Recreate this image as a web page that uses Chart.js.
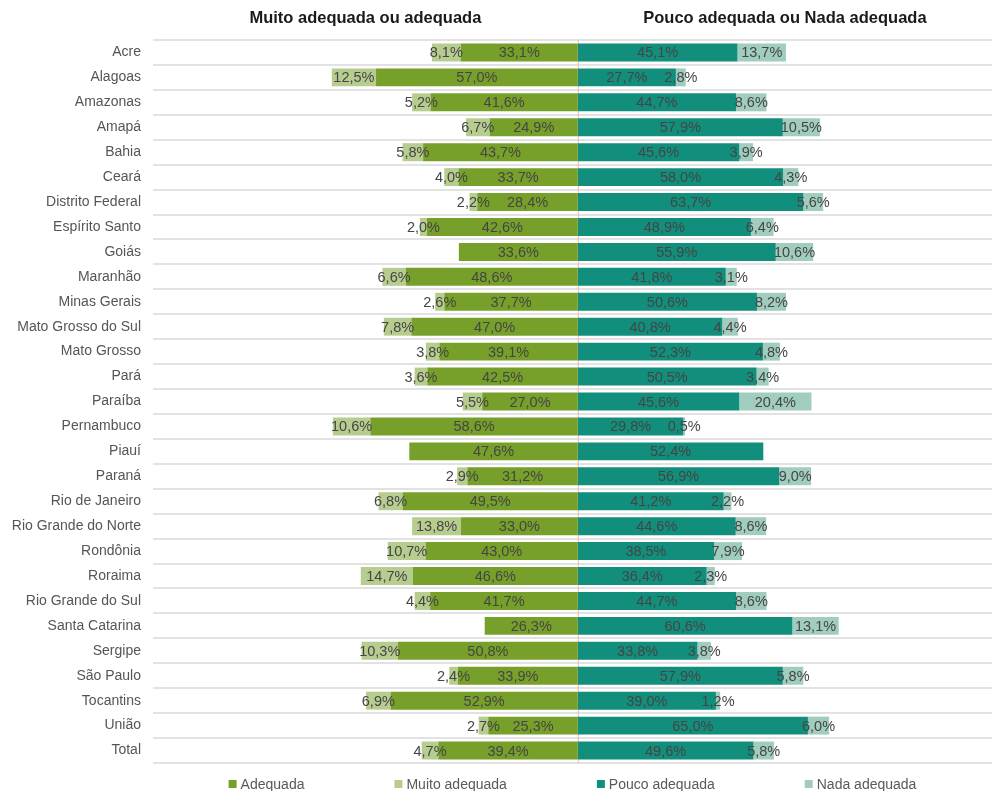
<!DOCTYPE html>
<html>
<head>
<meta charset="utf-8">
<script src="https://cdn.jsdelivr.net/npm/chart.js@4/dist/chart.umd.min.js"></script>
<style>
  html, body { margin: 0; padding: 0; background: #ffffff; }
  #wrap { position: relative; width: 992px; height: 791px; }
</style>
</head>
<body>
<div id="wrap"><canvas id="c"></canvas></div>
<script>
const categories = ['Acre','Alagoas','Amazonas','Amapá','Bahia','Ceará','Distrito Federal','Espírito Santo','Goiás','Maranhão','Minas Gerais','Mato Grosso do Sul','Mato Grosso','Pará','Paraíba','Pernambuco','Piauí','Paraná','Rio de Janeiro','Rio Grande do Norte','Rondônia','Roraima','Rio Grande do Sul','Santa Catarina','Sergipe','São Paulo','Tocantins','União','Total'];
const adequada       = [33.1,57.0,41.6,24.9,43.7,33.7,28.4,42.6,33.6,48.6,37.7,47.0,39.1,42.5,27.0,58.6,47.6,31.2,49.5,33.0,43.0,46.6,41.7,26.3,50.8,33.9,52.9,25.3,39.4];
const muitoAdequada  = [8.1,12.5,5.2,6.7,5.8,4.0,2.2,2.0,0,6.6,2.6,7.8,3.8,3.6,5.5,10.6,0,2.9,6.8,13.8,10.7,14.7,4.4,0,10.3,2.4,6.9,2.7,4.7];
const poucoAdequada  = [45.1,27.7,44.7,57.9,45.6,58.0,63.7,48.9,55.9,41.8,50.6,40.8,52.3,50.5,45.6,29.8,52.4,56.9,41.2,44.6,38.5,36.4,44.7,60.6,33.8,57.9,39.0,65.0,49.6];
const nadaAdequada   = [13.7,2.8,8.6,10.5,3.9,4.3,5.6,6.4,10.6,3.1,8.2,4.4,4.8,3.4,20.4,0.5,0,9.0,2.2,8.6,7.9,2.3,8.6,13.1,3.8,5.8,1.2,6.0,5.8];
const seriesNames = ['Adequada','Muito adequada','Pouco adequada','Nada adequada'];
const panelTitles = ['Muito adequada ou adequada','Pouco adequada ou Nada adequada'];

const FONT = '"Liberation Sans", Arial, sans-serif';
const colors = ['#77a02a','#b7cd8f','#118f7c','#a0cdbe'];
const fmt = v => v.toFixed(1).replace('.', ',') + '%';

const labelsPlugin = {
  id: 'custom',
  beforeDatasetsDraw(chart) {
    const {ctx, chartArea, scales} = chart;
    const x0 = scales.x.getPixelForValue(0);
    ctx.save();
    ctx.strokeStyle = '#f2b8b0';
    ctx.lineWidth = 1;
    ctx.beginPath();
    ctx.moveTo(x0 + 0.5, chartArea.top);
    ctx.lineTo(x0 + 0.5, chartArea.bottom);
    ctx.stroke();
    ctx.restore();
  },
  afterDatasetsDraw(chart) {
    const {ctx} = chart;
    ctx.save();
    ctx.font = '14.5px ' + FONT;
    ctx.fillStyle = '#454545';
    ctx.textAlign = 'center';
    ctx.textBaseline = 'middle';
    chart.data.datasets.forEach((ds, i) => {
      const meta = chart.getDatasetMeta(i);
      meta.data.forEach((el, j) => {
        const v = Math.abs(ds.data[j]);
        if (!v) return;
        const cx = (el.x + el.base) / 2;
        ctx.fillText(fmt(v), cx, el.y + 1);
      });
    });
    ctx.restore();
  },
  afterDraw(chart) {
    const {ctx, chartArea, scales} = chart;
    const x0 = scales.x.getPixelForValue(0);
    ctx.save();
    ctx.font = 'bold 16.5px ' + FONT;
    ctx.fillStyle = '#1a1a1a';
    ctx.textAlign = 'center';
    ctx.textBaseline = 'middle';
    ctx.fillText(panelTitles[0], (chartArea.left + x0) / 2, chartArea.top - 22);
    ctx.fillText(panelTitles[1], (x0 + chartArea.right) / 2, chartArea.top - 22);

    // legend
    ctx.font = '14px ' + FONT;
    const box = 8, gapBox = 4, gap = 90;
    const widths = seriesNames.map(n => box + gapBox + ctx.measureText(n).width);
    const total = widths.reduce((a, b) => a + b, 0) + gap * (widths.length - 1);
    let x = (chartArea.left + chartArea.right) / 2 - total / 2;
    const y = chartArea.bottom + 21;
    ctx.textAlign = 'left';
    seriesNames.forEach((n, i) => {
      ctx.fillStyle = colors[i];
      ctx.fillRect(x, y - box / 2, box, box);
      ctx.fillStyle = '#595959';
      ctx.fillText(n, x + box + gapBox, y + 1);
      x += widths[i] + gap;
    });
    ctx.restore();
  }
};

new Chart(document.getElementById('c'), {
  type: 'bar',
  data: {
    labels: categories,
    datasets: [
      { label: seriesNames[0], data: adequada.map(v => -v), backgroundColor: colors[0] },
      { label: seriesNames[1], data: muitoAdequada.map(v => -v), backgroundColor: colors[1] },
      { label: seriesNames[2], data: poucoAdequada, backgroundColor: colors[2] },
      { label: seriesNames[3], data: nadaAdequada, backgroundColor: colors[3] }
    ]
  },
  options: {
    indexAxis: 'y',
    responsive: true,
    maintainAspectRatio: false,
    animation: false,
    datasets: { bar: { barPercentage: 0.72, categoryPercentage: 1 } },
    layout: { padding: { top: 40, bottom: 28, left: 0, right: 0 } },
    plugins: { legend: { display: false }, tooltip: { enabled: false } },
    scales: {
      x: {
        stacked: true, display: false, min: -120, max: 117
      },
      y: {
        stacked: true,
        border: { display: false },
        grid: { color: '#e2e2e2', lineWidth: 2, drawTicks: false, offset: true },
        ticks: { color: '#555555', font: { family: FONT, size: 14 }, padding: 12 },
        afterFit(scale) { scale.width = 153; }
      }
    }
  },
  plugins: [labelsPlugin]
});
</script>
</body>
</html>
